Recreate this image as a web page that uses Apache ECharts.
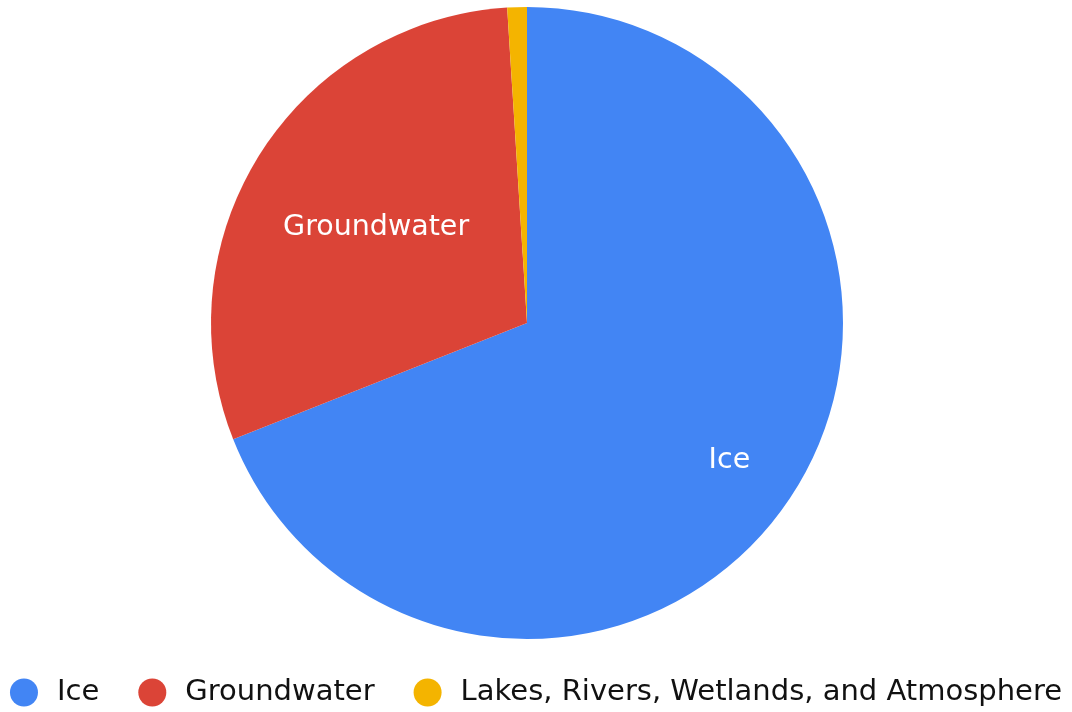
<!DOCTYPE html>
<html>
<head>
<meta charset="utf-8">
<style>
  html, body { margin: 0; padding: 0; background: #ffffff; }
  #chart { width: 1072px; height: 712px; }
</style>
<script src="https://cdn.jsdelivr.net/npm/echarts@6/dist/echarts.min.js"></script>
</head>
<body>
<div id="chart"></div>
<script>
// Share of the world's fresh water, by where it is held (%)
const categories = ['Ice', 'Groundwater', 'Lakes, Rivers, Wetlands, and Atmosphere'];
const shares = [69.0, 30.0, 1.0];
const sliceColors = ['#4285f4', '#db4437', '#f4b400'];
const showLabel = [true, true, false];
// Radial position of each in-slice label, as a fraction of the radius
const labelRadius = [0.76, 0.555, 0.5];

const FONT = '"DejaVu Sans", Verdana, sans-serif';
const CENTER = [527, 323];
const RADIUS = 316;

const chart = echarts.init(document.getElementById('chart'), null, { renderer: 'canvas' });

const option = {
  backgroundColor: '#ffffff',
  animation: false,
  color: sliceColors,
  legend: {
    show: true,
    left: 'center',
    top: 673,
    icon: 'circle',
    itemWidth: 28,
    itemHeight: 28,
    itemGap: 39,
    textStyle: { fontFamily: FONT, fontSize: 29, color: '#111111', padding: [0, 0, 0, 14] },
    data: categories
  },
  series: [{
    type: 'pie',
    center: [CENTER[0] + 'px', CENTER[1] + 'px'],
    radius: [0, RADIUS],
    startAngle: 90,
    clockwise: true,
    avoidLabelOverlap: false,
    itemStyle: { borderWidth: 0 },
    label: {
      show: true,
      position: 'inside',
      color: '#ffffff',
      fontFamily: FONT,
      fontSize: 28.5,
      formatter: '{b}'
    },
    labelLine: { show: false },
    emphasis: { disabled: true },
    labelLayout: function (params) {
      const f = labelRadius[params.dataIndex];
      const r = params.labelRect;
      const lx = r.x + r.width / 2;
      const ly = r.y + r.height / 2;
      return { dx: (lx - CENTER[0]) * (2 * f - 1), dy: (ly - CENTER[1]) * (2 * f - 1) };
    },
    data: categories.map((name, i) => ({
      name: name,
      value: shares[i],
      label: { show: showLabel[i] }
    }))
  }]
};

chart.setOption(option);
</script>
</body>
</html>
